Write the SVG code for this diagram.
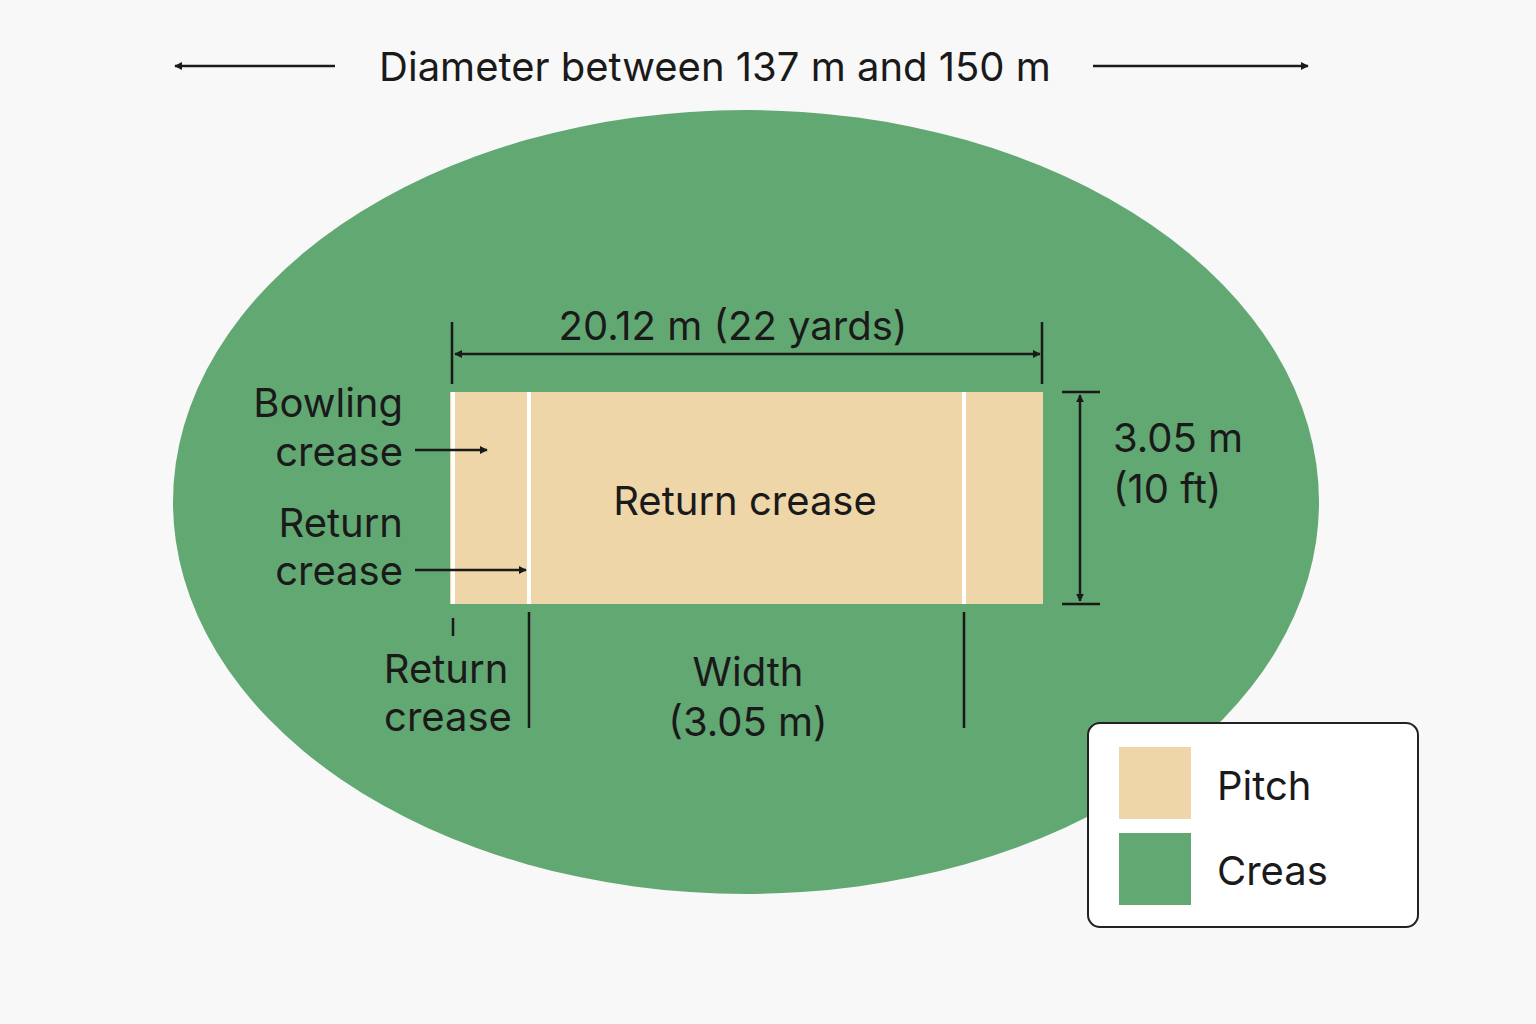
<svg xmlns="http://www.w3.org/2000/svg" width="1536" height="1024" viewBox="0 0 1536 1024">
<defs>
<marker id="ah" viewBox="0 0 10 10" refX="9" refY="5" markerWidth="8" markerHeight="8" orient="auto-start-reverse" markerUnits="userSpaceOnUse"><path d="M0,0 L10,5 L0,10 z" fill="#1a1a1a"/></marker>
<style>
text{font-family:"Inter","Liberation Sans",sans-serif;fill:#1a1a1a;font-size:40px}
.ln{stroke:#1a1a1a;stroke-width:2.5;fill:none}
.wl{stroke:#ffffff;stroke-width:4}
</style>
</defs>
<rect width="1536" height="1024" fill="#f8f8f8"/>
<g id="field"><ellipse cx="746" cy="502" rx="573" ry="392" fill="#62a872"/></g>
<g id="pitch">
<rect x="450" y="392" width="593" height="212" fill="#eed6a8"/>
<line class="wl" x1="453" y1="392" x2="453" y2="604"/>
<line class="wl" x1="529" y1="392" x2="529" y2="604"/>
<line class="wl" x1="964" y1="392" x2="964" y2="604"/>
<text x="745" y="515" text-anchor="middle" font-size="42">Return crease</text>
</g>
<g id="connectors">
<line class="ln" x1="335" y1="66" x2="175" y2="66" marker-end="url(#ah)"/>
<line class="ln" x1="1093" y1="66" x2="1308" y2="66" marker-end="url(#ah)"/>
<line class="ln" x1="452" y1="322" x2="452" y2="384"/>
<line class="ln" x1="1042" y1="322" x2="1042" y2="384"/>
<line class="ln" x1="455" y1="354" x2="1040" y2="354" marker-start="url(#ah)" marker-end="url(#ah)"/>
<line class="ln" x1="1062" y1="392" x2="1100" y2="392"/>
<line class="ln" x1="1062" y1="604" x2="1100" y2="604"/>
<line class="ln" x1="1080" y1="395" x2="1080" y2="601" marker-start="url(#ah)" marker-end="url(#ah)"/>
<line class="ln" x1="415" y1="450" x2="487" y2="450" marker-end="url(#ah)"/>
<line class="ln" x1="415" y1="570" x2="526" y2="570" marker-end="url(#ah)"/>
<line class="ln" x1="453" y1="618" x2="453" y2="636"/>
<line class="ln" x1="529" y1="612" x2="529" y2="728"/>
<line class="ln" x1="964" y1="612" x2="964" y2="728"/>
</g>
<g id="labels">
<text x="715" y="81" text-anchor="middle" font-size="42">Diameter between 137 m and 150 m</text>
<text x="733" y="340" text-anchor="middle">20.12 m (22 yards)</text>
<text x="1113" y="452">3.05 m</text>
<text x="1113" y="503">(10 ft)</text>
<text x="403" y="417" text-anchor="end">Bowling</text>
<text x="403" y="466" text-anchor="end">crease</text>
<text x="403" y="537" text-anchor="end">Return</text>
<text x="403" y="585" text-anchor="end">crease</text>
<text x="446" y="683" text-anchor="middle">Return</text>
<text x="448" y="731" text-anchor="middle">crease</text>
<text x="748" y="686" text-anchor="middle">Width</text>
<text x="748" y="736" text-anchor="middle">(3.05 m)</text>
</g>
<g id="legend">
<rect x="1088" y="723" width="330" height="204" rx="12" fill="#ffffff" stroke="#222" stroke-width="2"/>
<rect x="1119" y="747" width="72" height="72" fill="#eed6a8"/>
<rect x="1119" y="833" width="72" height="72" fill="#62a872"/>
<text x="1217" y="800" font-size="42">Pitch</text>
<text x="1217" y="885" font-size="42">Creas</text>
</g>
</svg>
